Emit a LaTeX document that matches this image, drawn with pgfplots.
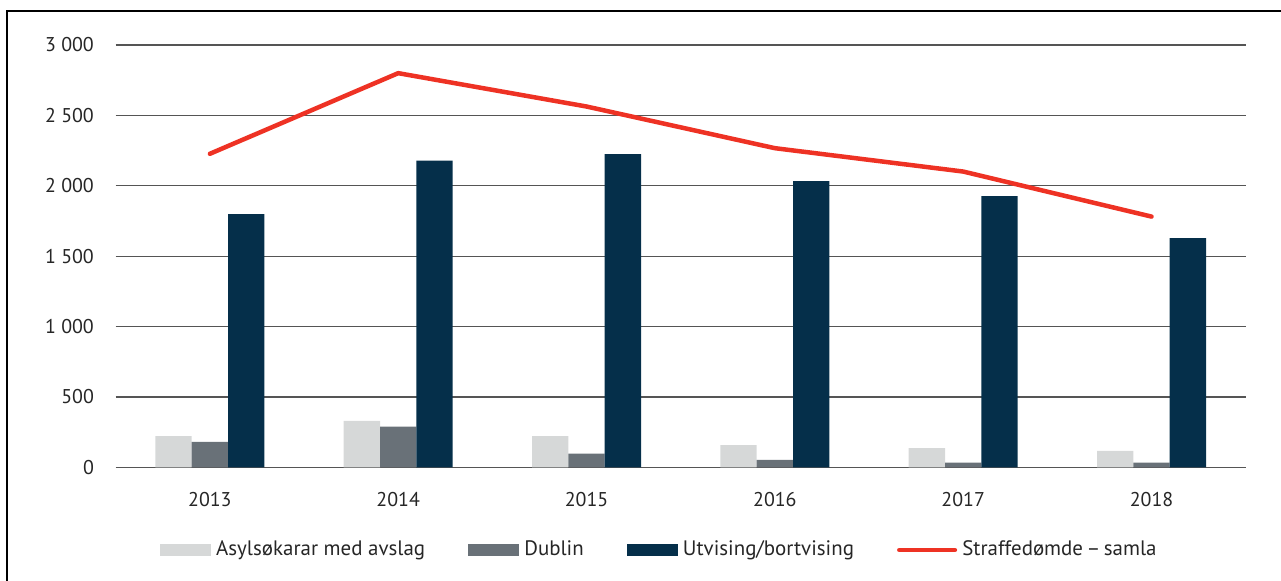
\documentclass[border=0pt]{standalone}
\usepackage{fontspec}
\setmainfont{PT Sans}
\usepackage{pgfplots}
\pgfplotsset{compat=1.18}
\definecolor{lightbar}{RGB}{214,216,216}
\definecolor{dublinbar}{RGB}{105,113,120}
\definecolor{navybar}{RGB}{5,47,74}
\definecolor{redline}{RGB}{238,50,36}
\definecolor{gridc}{RGB}{85,85,85}
\begin{document}
\begin{tikzpicture}
\useasboundingbox (-57.85bp,-56.85bp) rectangle (582.65bp,233.65bp);
\draw[black, line width=1.1bp] (-54.35bp,-70bp) -- (-54.35bp,228.15bp) -- (600bp,228.15bp);
\begin{axis}[
  at={(0,0)}, anchor=south west,
  width=565bp, height=211.15bp, scale only axis,
  xmin=-0.5, xmax=5.5, ymin=0, ymax=3000,
  axis line style={draw=none},
  major tick length=0pt,
  xtick={0,1,2,3,4,5},
  xticklabels={2013,2014,2015,2016,2017,2018},
  ytick={0,500,1000,1500,2000,2500,3000},
  yticklabels={0,500,1 000,1 500,2 000,2 500,3 000},
  ymajorgrids,
  grid style={gridc, line width=0.6bp},
  tick label style={font=\fontsize{10}{12}\selectfont, text=black!85},
  yticklabel style={anchor=east, xshift=-7.4bp},
  xticklabel style={anchor=north, yshift=-8.9bp},
  clip=false,
  legend columns=4,
  legend style={at={(0.0392,-0.1958)}, anchor=west, draw=none, fill=none,
    inner sep=0pt, outer sep=0pt,
    font=\fontsize{10.5}{12.6}\selectfont, text=black!85,
    nodes={inner sep=0pt},
    /tikz/every odd column/.append style={column sep=2.6bp},
    /tikz/every even column/.append style={column sep=21.5bp}},
  legend cell align=left,
]
\addplot[ybar, bar width=0.193, bar shift=-0.193, fill=lightbar, draw=none,
  legend image code/.code={\fill[lightbar] (0bp,-3bp) rectangle (25.5bp,3bp);}]
  coordinates {(0,222) (1,329) (2,222) (3,158) (4,137) (5,116)};
\addlegendentry{Asylsøkarar med avslag}
\addplot[ybar, bar width=0.193, bar shift=0, fill=dublinbar, draw=none,
  legend image code/.code={\fill[dublinbar] (0bp,-3bp) rectangle (25.5bp,3bp);}]
  coordinates {(0,180) (1,289) (2,97) (3,52) (4,33) (5,33)};
\addlegendentry{Dublin}
\addplot[ybar, bar width=0.193, bar shift=0.193, fill=navybar, draw=none,
  legend image code/.code={\fill[navybar] (0bp,-3bp) rectangle (25.5bp,3bp);}]
  coordinates {(0,1798) (1,2179) (2,2225) (3,2033) (4,1926) (5,1628)};
\addlegendentry{Utvising/bortvising}
\addplot[redline, line width=2.25bp, line cap=round, line join=round, mark=none,
  legend image code/.code={\draw[redline, line width=2.25bp, line cap=round] (1.1bp,0bp) -- (28.9bp,0bp);}]
  coordinates {(0,2227) (1,2800) (2,2563) (3,2267) (4,2101) (5,1781)};
\addlegendentry{Straffedømde\,–\,samla}
\end{axis}
\end{tikzpicture}
\end{document}
